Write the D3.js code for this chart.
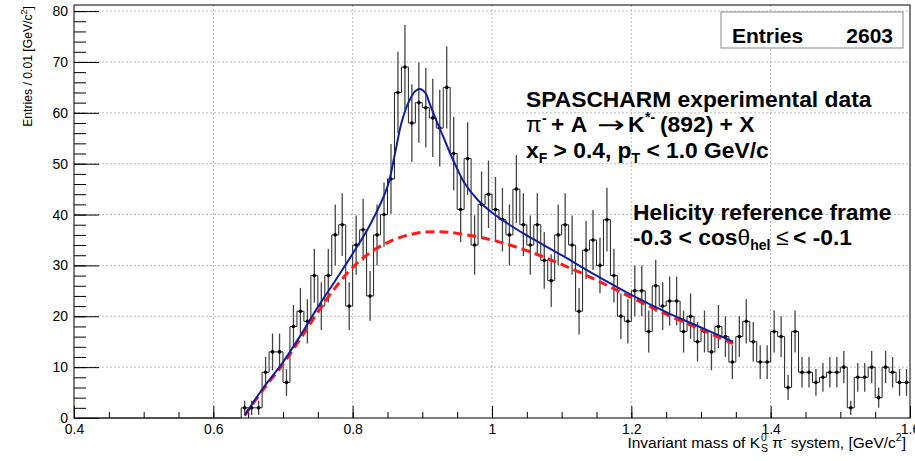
<!DOCTYPE html>
<html>
<head>
<meta charset="utf-8">
<script src="https://cdn.jsdelivr.net/npm/d3@7"></script>
<style>
  body { margin: 0; background: #fff; }
  svg { display: block; font-family: "Liberation Sans", Arial, Helvetica, sans-serif; }
</style>
</head>
<body>
<div id="chart"></div>
<script>
// Histogram: entries per 0.01 GeV/c^2 bin, bins start at 0.64
const binStart = 0.64;
const binWidth = 0.01;
const counts = [
  2, 2, 2, 9, 13, 13, 7, 18, 21, 19,
  28, 22, 28, 36, 38, 22, 34, 37, 24, 36,
  40, 47, 64, 69, 58, 62, 61, 59, 57, 65,
  52, 41, 51, 34, 42, 44, 41, 39, 36, 45,
  38, 34, 38, 31, 27, 36, 38, 34, 21, 33,
  35, 30, 39, 28, 20, 19, 25, 25, 17, 26,
  22, 23, 23, 17, 20, 15, 17, 13, 18, 16,
  11, 16, 19, 15, 11, 11, 17, 16, 6, 17,
  9, 9, 7, 8, 9, 9, 10, 2, 8, 8,
  10, 4, 10, 9, 7, 7
];

// Full fit (signal + background)
const fitX = [0.645, 0.67, 0.70, 0.725, 0.75, 0.775, 0.80, 0.825, 0.85, 0.86, 0.87, 0.88, 0.89, 0.897, 0.905, 0.91, 0.92, 0.93, 0.94, 0.95, 0.96, 0.98, 1.00, 1.025, 1.05, 1.10, 1.15, 1.20, 1.25, 1.30, 1.346];
const fitY = [0.5, 5.6, 11, 16.2, 21.8, 27, 32.3, 38, 45.5, 51.5, 58, 62, 64.3, 64.7, 63.8, 62, 58.5, 55.3, 52, 49, 46.3, 42.8, 40.4, 38, 35.9, 32, 28, 24.2, 20.8, 17.8, 15];

// Background only
const bgX = [0.645, 0.67, 0.70, 0.725, 0.75, 0.775, 0.80, 0.825, 0.85, 0.875, 0.90, 0.925, 0.95, 1.00, 1.05, 1.10, 1.15, 1.20, 1.25, 1.30, 1.346];
const bgY = [0.5, 5.3, 10.6, 15.6, 20.8, 25.6, 29.6, 32.5, 34.5, 35.8, 36.5, 36.6, 36.3, 35, 32.9, 30.2, 27.1, 23.7, 20.4, 17.4, 14.6];

const xMajor = [0.4, 0.6, 0.8, 1.0, 1.2, 1.4, 1.6];
const yMajor = [0, 10, 20, 30, 40, 50, 60, 70, 80];
const entries = 2603;

// Config
const width = 915;
const height = 461;
const frame = { left: 74, right: 910, top: 5, bottom: 418 };
const yTop = 81.2;

const svg = d3.select("#chart").append("svg")
  .attr("width", width)
  .attr("height", height)
  .attr("viewBox", [0, 0, width, height]);

const x = d3.scaleLinear().domain([0.4, 1.6]).range([frame.left, frame.right]);
const y = d3.scaleLinear().domain([0, yTop]).range([frame.bottom, frame.top]);

// Grid
svg.append("g").selectAll("line")
  .data(xMajor.slice(1, -1))
  .join("line")
  .attr("x1", d => x(d)).attr("x2", d => x(d))
  .attr("y1", frame.top).attr("y2", frame.bottom)
  .attr("stroke", "#bbb").attr("stroke-dasharray", "2,2");

svg.append("g").selectAll("line")
  .data(yMajor.slice(1))
  .join("line")
  .attr("x1", frame.left).attr("x2", frame.right)
  .attr("y1", d => y(d)).attr("y2", d => y(d))
  .attr("stroke", "#bbb").attr("stroke-dasharray", "2,2");

// Axes (ticks inside the frame, ROOT style)
const xMinor = d3.range(0.4, 1.6001, 0.05);
const yMinor = d3.range(0, 80.01, 2);

svg.append("g")
  .attr("transform", `translate(0,${frame.bottom})`)
  .call(d3.axisBottom(x).tickValues(xMinor).tickSize(-6).tickFormat(""))
  .call(g => g.select(".domain").remove());

svg.append("g")
  .attr("transform", `translate(0,${frame.bottom})`)
  .call(d3.axisBottom(x).tickValues(xMajor).tickSize(-12).tickPadding(6).tickFormat(d3.format("~g")))
  .call(g => g.select(".domain").remove())
  .call(g => g.selectAll("text").attr("font-size", 14).attr("fill", "#000")
    .attr("font-family", "Liberation Sans, Arial, sans-serif"));

svg.append("g")
  .attr("transform", `translate(${frame.left},0)`)
  .call(d3.axisLeft(y).tickValues(yMinor).tickSize(-12).tickFormat(""))
  .call(g => g.select(".domain").remove());

svg.append("g")
  .attr("transform", `translate(${frame.left},0)`)
  .call(d3.axisLeft(y).tickValues(yMajor).tickSize(-25).tickPadding(6))
  .call(g => g.select(".domain").remove())
  .call(g => g.selectAll("text").attr("font-size", 14).attr("fill", "#000")
    .attr("font-family", "Liberation Sans, Arial, sans-serif"));

// Frame
svg.append("rect")
  .attr("x", frame.left).attr("y", frame.top)
  .attr("width", frame.right - frame.left).attr("height", frame.bottom - frame.top)
  .attr("fill", "none").attr("stroke", "#000").attr("stroke-width", 1);

// Histogram
const bins = counts.map((v, i) => ({ lo: binStart + i * binWidth, v: v }));
const stepPts = [[0.4, 0], [binStart, 0]]
  .concat(bins.map(d => [d.lo, d.v]))
  .concat([[1.6, counts[counts.length - 1]]]);

svg.append("path")
  .datum(stepPts)
  .attr("fill", "none")
  .attr("stroke", "#222")
  .attr("stroke-width", 1)
  .attr("d", d3.line().x(d => x(d[0])).y(d => y(d[1])).curve(d3.curveStepAfter));

svg.append("g").selectAll("line")
  .data(bins)
  .join("line")
  .attr("x1", d => x(d.lo + binWidth / 2)).attr("x2", d => x(d.lo + binWidth / 2))
  .attr("y1", d => y(Math.max(0, d.v - Math.sqrt(d.v))))
  .attr("y2", d => y(d.v + Math.sqrt(d.v)))
  .attr("stroke", "#444").attr("stroke-width", 1.3);

svg.append("g").selectAll("circle")
  .data(bins)
  .join("circle")
  .attr("cx", d => x(d.lo + binWidth / 2))
  .attr("cy", d => y(d.v))
  .attr("r", 1.8)
  .attr("fill", "#000");

// Fits
const curve = d3.line().x(d => x(d[0])).y(d => y(d[1])).curve(d3.curveCatmullRom.alpha(0.5));

svg.append("path")
  .datum(d3.zip(bgX, bgY))
  .attr("fill", "none")
  .attr("stroke", "#ff1a1a")
  .attr("stroke-width", 3)
  .attr("stroke-dasharray", "9,5")
  .attr("d", curve);

svg.append("path")
  .datum(d3.zip(fitX, fitY))
  .attr("fill", "none")
  .attr("stroke", "#1020a0")
  .attr("stroke-width", 2)
  .attr("d", curve);

// Axis titles
const xt = svg.append("text")
  .attr("x", 906).attr("y", 448)
  .attr("text-anchor", "end")
  .attr("font-size", 15.5);
xt.append("tspan").text("Invariant mass of K");
xt.append("tspan").attr("font-size", 10.5).attr("dy", -7).attr("dx", 1).text("0");
xt.append("tspan").attr("font-size", 10.5).attr("dy", 11).attr("dx", -6).text("S");
xt.append("tspan").attr("dy", -4).text(" π");
xt.append("tspan").attr("font-size", 10.5).attr("dy", -6).text("-");
xt.append("tspan").attr("dy", 6).text(" system, [GeV/c");
xt.append("tspan").attr("font-size", 10.5).attr("dy", -7).text("2");
xt.append("tspan").attr("dy", 7).text("]");

const yt = svg.append("text")
  .attr("transform", "translate(32,6) rotate(-90)")
  .attr("text-anchor", "end")
  .attr("font-size", 12.2);
yt.append("tspan").text("Entries / 0.01 [GeV/c");
yt.append("tspan").attr("font-size", 9).attr("dy", -5).text("2");
yt.append("tspan").attr("dy", 5).text("]");

// Stats box
svg.append("rect")
  .attr("x", 721).attr("y", 12).attr("width", 182).attr("height", 36)
  .attr("fill", "#fff").attr("stroke", "#888").attr("stroke-width", 1);
svg.append("text").attr("x", 732).attr("y", 43)
  .attr("font-size", 21).attr("font-weight", "bold").text("Entries");
svg.append("text").attr("x", 893).attr("y", 43).attr("text-anchor", "end")
  .attr("font-size", 21).attr("font-weight", "bold").text(entries);

// Annotations
const note = svg.append("g").attr("font-size", 22.8).attr("font-weight", "bold");

note.append("text").attr("x", 526).attr("y", 107).text("SPASCHARM experimental data");

const l2 = note.append("text").attr("y", 132);
l2.append("tspan").attr("x", 526).attr("font-weight", "normal").text("π");
l2.append("tspan").attr("x", 542).attr("font-size", 14).attr("dy", -9).text("-");
l2.append("tspan").attr("x", 551).attr("dy", 9).text("+ A");
l2.append("tspan").attr("x", 628).text("K");
l2.append("tspan").attr("x", 645).attr("font-size", 14).attr("dy", -10).text("*-");
l2.append("tspan").attr("x", 660).attr("dy", 10).text("(892) + X");

note.append("text")
  .attr("x", 597).attr("y", 133)
  .attr("font-family", "DejaVu Sans")
  .attr("font-weight", "normal")
  .attr("font-size", 24)
  .attr("textLength", 28).attr("lengthAdjust", "spacingAndGlyphs")
  .text("→");

const l3 = note.append("text").attr("x", 526).attr("y", 158);
l3.append("tspan").text("x");
l3.append("tspan").attr("font-size", 14).attr("dy", 5).text("F");
l3.append("tspan").attr("dy", -5).text(" > 0.4, p");
l3.append("tspan").attr("font-size", 14).attr("dy", 5).text("T");
l3.append("tspan").attr("dy", -5).text(" < 1.0 GeV/c");

note.append("text").attr("x", 633).attr("y", 220).text("Helicity reference frame");

const l5 = note.append("text").attr("y", 245);
l5.append("tspan").attr("x", 633).text("-0.3 < cos");
l5.append("tspan").attr("font-weight", "normal").text("θ");
l5.append("tspan").attr("font-size", 14).attr("dy", 5).text("hel");
l5.append("tspan").attr("x", 776).attr("dy", -5).attr("font-weight", "normal").text("≤");
l5.append("tspan").attr("x", 793).text("< -0.1");
</script>
</body>
</html>
